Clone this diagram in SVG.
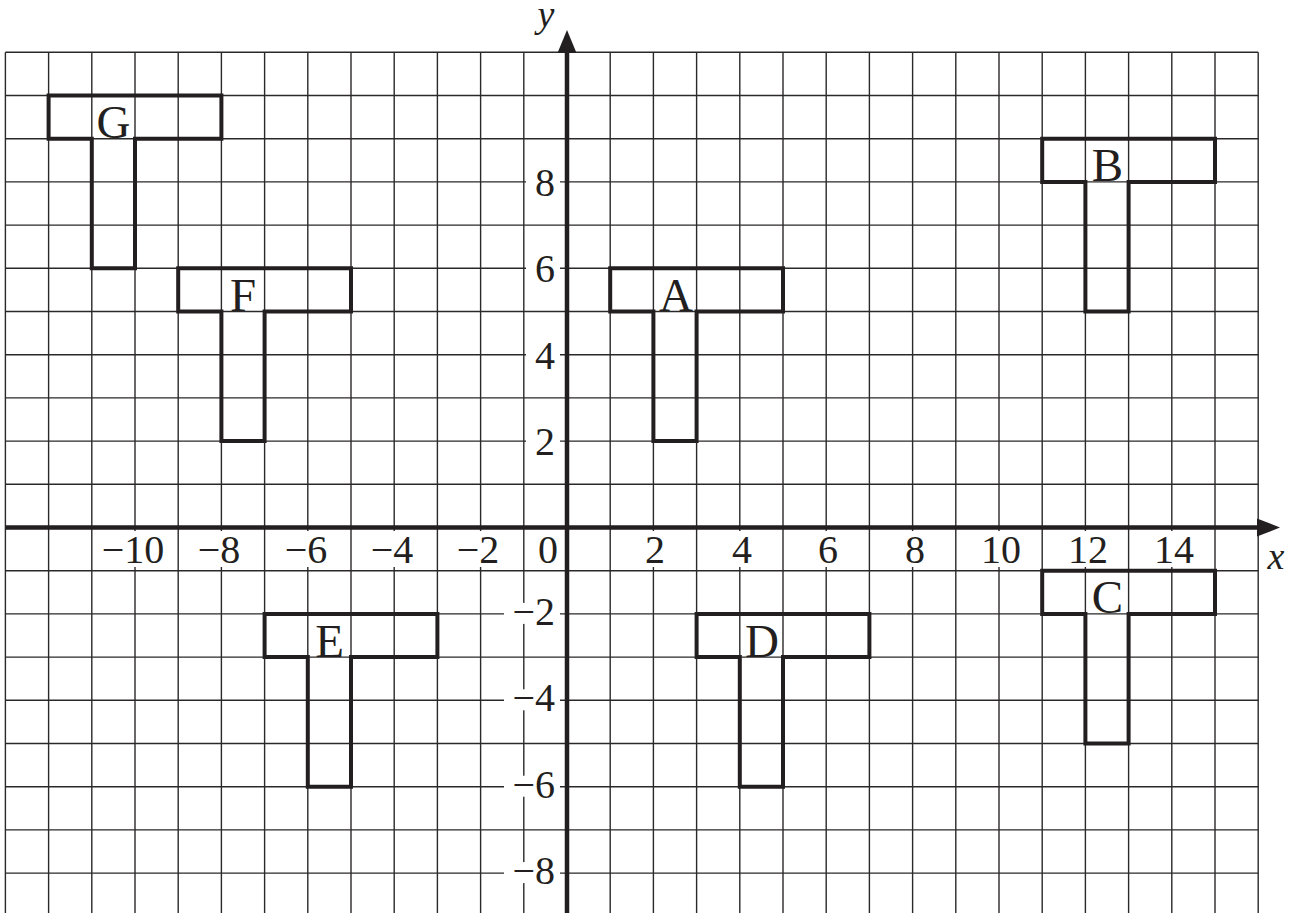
<svg xmlns="http://www.w3.org/2000/svg" width="1295" height="913" viewBox="0 0 1295 913">
<style>
.grid{stroke:#2b2829;stroke-width:1.4;fill:none}
.axis{stroke:#231f20;stroke-width:4.5;fill:none}
.shape{stroke:#231f20;stroke-width:4;fill:none;stroke-linejoin:miter}
.num{font-family:"Liberation Serif","Times New Roman",serif;font-size:40px;fill:#231f20}
.let{font-family:"Liberation Serif","Times New Roman",serif;font-size:47px;fill:#231f20;text-anchor:middle}
.var{font-family:"Liberation Serif","Times New Roman",serif;font-style:italic;font-size:38px;fill:#231f20;text-anchor:middle}
.bg{fill:#ffffff}
</style>
<rect width="1295" height="913" fill="#ffffff"/>
<g id="grid" class="grid">
<path d="M5.4 52.3V913M48.6 52.3V913M91.8 52.3V913M135 52.3V913M178.2 52.3V913M221.4 52.3V913M264.6 52.3V913M307.8 52.3V913M351 52.3V913M394.2 52.3V913M437.4 52.3V913M480.6 52.3V913M523.8 52.3V913M610.2 52.3V913M653.4 52.3V913M696.6 52.3V913M739.8 52.3V913M783 52.3V913M826.2 52.3V913M869.4 52.3V913M912.6 52.3V913M955.8 52.3V913M999 52.3V913M1042.2 52.3V913M1085.4 52.3V913M1128.6 52.3V913M1171.8 52.3V913M1215 52.3V913M1258.2 52.3V913"/>
<path d="M5.4 52.3H1258.2M5.4 95.5H1258.2M5.4 138.7H1258.2M5.4 181.9H1258.2M5.4 225.1H1258.2M5.4 268.3H1258.2M5.4 311.5H1258.2M5.4 354.7H1258.2M5.4 397.9H1258.2M5.4 441.1H1258.2M5.4 484.3H1258.2M5.4 570.7H1258.2M5.4 613.9H1258.2M5.4 657.1H1258.2M5.4 700.3H1258.2M5.4 743.5H1258.2M5.4 786.7H1258.2M5.4 829.9H1258.2M5.4 873.1H1258.2"/>
</g>
<g id="connectors">
<path class="axis" d="M5.4 527.5H1259"/>
<path class="axis" d="M567 913V52"/>
<polygon points="1280,527.5 1257,518.5 1257,536.5" fill="#231f20"/>
<polygon points="567,30 557.5,53 576.5,53" fill="#231f20"/>
</g>
<g id="axis-labels">
<text class="var" x="546" y="27">y</text>
<text class="var" x="1276" y="569">x</text>
<g id="x-labels" class="num" text-anchor="middle">
<rect class="bg" x="99" y="531" width="68" height="36"/><text x="133" y="562.7">−10</text>
<rect class="bg" x="195" y="531" width="48" height="36"/><text x="219" y="562.7">−8</text>
<rect class="bg" x="282" y="531" width="48" height="36"/><text x="306" y="562.7">−6</text>
<rect class="bg" x="368" y="531" width="48" height="36"/><text x="392" y="562.7">−4</text>
<rect class="bg" x="454" y="531" width="48" height="36"/><text x="478" y="562.7">−2</text>
<rect class="bg" x="535" y="531" width="26" height="36"/><text x="548" y="562.7">0</text>
<rect class="bg" x="642" y="531" width="26" height="36"/><text x="655" y="562.7">2</text>
<rect class="bg" x="729" y="531" width="26" height="36"/><text x="742" y="562.7">4</text>
<rect class="bg" x="815" y="531" width="26" height="36"/><text x="828" y="562.7">6</text>
<rect class="bg" x="902" y="531" width="26" height="36"/><text x="915" y="562.7">8</text>
<rect class="bg" x="978" y="531" width="46" height="36"/><text x="1001" y="562.7">10</text>
<rect class="bg" x="1065" y="531" width="46" height="36"/><text x="1088" y="562.7">12</text>
<rect class="bg" x="1151" y="531" width="46" height="36"/><text x="1174" y="562.7">14</text>
</g>
<g id="y-labels" class="num" text-anchor="end">
<rect class="bg" x="526" y="167.9" width="34" height="28"/><text x="555" y="195.9">8</text>
<rect class="bg" x="526" y="254.3" width="34" height="28"/><text x="555" y="282.3">6</text>
<rect class="bg" x="526" y="340.7" width="34" height="28"/><text x="555" y="368.7">4</text>
<rect class="bg" x="526" y="427.1" width="34" height="28"/><text x="555" y="455.1">2</text>
<rect class="bg" x="504" y="602.9" width="56" height="21"/><text x="555" y="624.9">−2</text>
<rect class="bg" x="504" y="689.3" width="56" height="21"/><text x="555" y="711.3">−4</text>
<rect class="bg" x="504" y="775.7" width="56" height="21"/><text x="555" y="797.7">−6</text>
<rect class="bg" x="504" y="862.1" width="56" height="21"/><text x="555" y="884.1">−8</text>
</g>
</g>
<g id="A"><polygon class="shape" points="610.2,268.3 783,268.3 783,311.5 696.6,311.5 696.6,441.1 653.4,441.1 653.4,311.5 610.2,311.5"/><text class="let" x="676" y="311">A</text></g>
<g id="B"><polygon class="shape" points="1042.2,138.7 1215,138.7 1215,181.9 1128.6,181.9 1128.6,311.5 1085.4,311.5 1085.4,181.9 1042.2,181.9"/><text class="let" x="1107.5" y="181.4">B</text></g>
<g id="C"><polygon class="shape" points="1042.2,570.7 1215,570.7 1215,613.9 1128.6,613.9 1128.6,743.5 1085.4,743.5 1085.4,613.9 1042.2,613.9"/><text class="let" x="1107.5" y="613.4">C</text></g>
<g id="D"><polygon class="shape" points="696.6,613.9 869.4,613.9 869.4,657.1 783,657.1 783,786.7 739.8,786.7 739.8,657.1 696.6,657.1"/><text class="let" x="762" y="656.6">D</text></g>
<g id="E"><polygon class="shape" points="264.6,613.9 437.4,613.9 437.4,657.1 351,657.1 351,786.7 307.8,786.7 307.8,657.1 264.6,657.1"/><text class="let" x="329.5" y="656.6">E</text></g>
<g id="F"><polygon class="shape" points="178.2,268.3 351,268.3 351,311.5 264.6,311.5 264.6,441.1 221.4,441.1 221.4,311.5 178.2,311.5"/><text class="let" x="243" y="311">F</text></g>
<g id="G"><polygon class="shape" points="48.6,95.5 221.4,95.5 221.4,138.7 135,138.7 135,268.3 91.8,268.3 91.8,138.7 48.6,138.7"/><text class="let" x="113.5" y="138.2">G</text></g>
</svg>
